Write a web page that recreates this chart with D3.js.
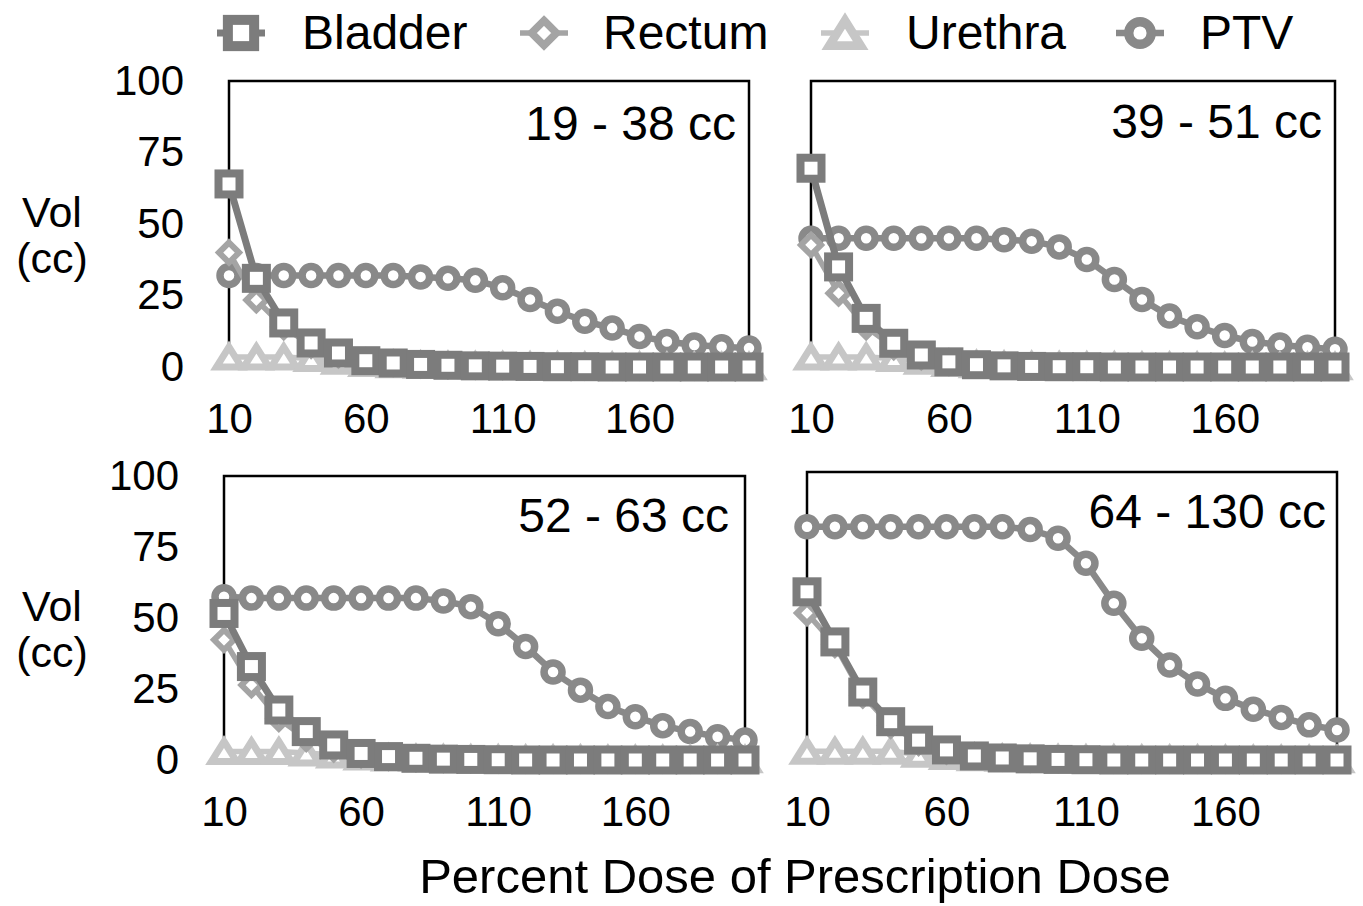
<!DOCTYPE html>
<html>
<head>
<meta charset="utf-8">
<script src="https://cdn.jsdelivr.net/npm/d3@7"></script>
<style>
  html, body { margin: 0; padding: 0; background: #ffffff; }
  svg { display: block; }
  text { font-family: "Liberation Sans", Arial, Helvetica, sans-serif; fill: #000; }
</style>
</head>
<body>
<script>
// ---------------- DATA ----------------
const dose = [10, 20, 30, 40, 50, 60, 70, 80, 90, 100, 110, 120, 130, 140, 150, 160, 170, 180, 190, 200];
const xTickValues = [10, 60, 110, 160];
const yTickValues = [0, 25, 50, 75, 100];
const seriesNames = ["Bladder", "Rectum", "Urethra", "PTV"];
const panelLabels = ["19 - 38 cc", "39 - 51 cc", "52 - 63 cc", "64 - 130 cc"];
const yTitleLines = ["Vol", "(cc)"];
const xTitle = "Percent Dose of Prescription Dose";

// Panel 1: 19 - 38 cc
const bladder1 = [64, 31, 15.4, 8.4, 4.9, 2.2, 1.4, 0.9, 0.6, 0.4, 0.3, 0.2, 0.1, 0.1, 0, 0, 0, 0, 0, 0];
const rectum1  = [40, 23.4, 14, 7.5, 4.2, 2.2, 1.2, 0.7, 0.4, 0.3, 0.2, 0.1, 0.1, 0, 0, 0, 0, 0, 0, 0];
const urethra1 = [3.5, 3.5, 3.5, 3, 2, 1.2, 0.8, 0.6, 0.5, 0.4, 0.4, 0.3, 0.3, 0.2, 0.2, 0.2, 0.1, 0.1, 0.1, 0.1];
const ptv1     = [32, 32, 32, 32, 32, 32, 32, 31.5, 31, 30.3, 27.7, 23.6, 19.5, 16, 13.6, 10.7, 8.9, 7.7, 7.1, 6.6];

// Panel 2: 39 - 51 cc
const bladder2 = [69.5, 35, 17, 8.3, 4.2, 1.8, 0.8, 0.4, 0.2, 0.1, 0.1, 0, 0, 0, 0, 0, 0, 0, 0, 0];
const rectum2  = [42.7, 25.8, 14, 7, 3.5, 1.6, 0.8, 0.4, 0.2, 0.1, 0, 0, 0, 0, 0, 0, 0, 0, 0, 0];
const urethra2 = [3.5, 3.5, 3.5, 3, 2, 1.2, 0.8, 0.6, 0.5, 0.4, 0.3, 0.3, 0.2, 0.2, 0.2, 0.1, 0.1, 0.1, 0.1, 0.1];
const ptv2     = [45, 45, 45, 45, 45, 45, 45, 44.5, 44, 42, 37.6, 30.6, 23.6, 17.8, 14.1, 11, 8.9, 7.7, 6.9, 6.2];

// Panel 3: 52 - 63 cc
const bladder3 = [51.6, 32.9, 17.6, 10, 5.3, 2.3, 1.2, 0.6, 0.3, 0.2, 0.1, 0, 0, 0, 0, 0, 0, 0, 0, 0];
const rectum3  = [42.3, 26.4, 14.5, 7.5, 3.8, 1.8, 0.9, 0.4, 0.2, 0.1, 0, 0, 0, 0, 0, 0, 0, 0, 0, 0];
const urethra3 = [3, 3, 3, 2.5, 1.8, 1.1, 0.7, 0.5, 0.4, 0.3, 0.3, 0.2, 0.2, 0.2, 0.1, 0.1, 0.1, 0.1, 0.1, 0.1];
const ptv3     = [57.5, 57, 57, 57, 57, 57, 57, 57, 56, 54, 48, 40, 31, 24.6, 18.8, 15.2, 12.1, 10, 8.2, 7];

// Panel 4: 64 - 130 cc
const bladder4 = [58.4, 41, 23.6, 13.3, 6.9, 3.5, 1.4, 0.7, 0.4, 0.2, 0.1, 0, 0, 0, 0, 0, 0, 0, 0, 0];
const rectum4  = [51, 40, 22.5, 12, 6, 3, 1.4, 0.7, 0.3, 0.2, 0.1, 0, 0, 0, 0, 0, 0, 0, 0, 0];
const urethra4 = [3, 3, 3, 3, 2, 1.2, 0.8, 0.6, 0.5, 0.4, 0.3, 0.3, 0.2, 0.2, 0.2, 0.1, 0.1, 0.1, 0.1, 0.1];
const ptv4     = [81, 81, 81, 81, 81, 81, 81, 81, 80, 77, 68.3, 54.4, 42.3, 33, 26.4, 21.4, 17.6, 14.8, 12.2, 10.4];

// ---------------- STYLE / LAYOUT ----------------
const W = 1363, H = 906;
const FONT_TICK = 42, FONT_BIG = 48, FONT_TITLE = 49, FONT_YTITLE = 43;

const styles = {
  Bladder: { color: "#7c7c7c", lw: 7,   marker: "square" },
  Rectum:  { color: "#a4a4a4", lw: 5.5, marker: "diamond" },
  Urethra: { color: "#c6c6c6", lw: 5.5, marker: "triangle" },
  PTV:     { color: "#898989", lw: 6.5, marker: "circle" }
};

const panels = [
  { label: panelLabels[0], x0: 229, x1: 749,  top: 81,  y0: 367, lx: 736,  ly: 140, yAxis: true,
    data: { Bladder: bladder1, Rectum: rectum1, Urethra: urethra1, PTV: ptv1 } },
  { label: panelLabels[1], x0: 811, x1: 1335, top: 81,  y0: 367, lx: 1322, ly: 138, yAxis: false,
    data: { Bladder: bladder2, Rectum: rectum2, Urethra: urethra2, PTV: ptv2 } },
  { label: panelLabels[2], x0: 224, x1: 745,  top: 476, y0: 760, lx: 729,  ly: 532, yAxis: true,
    data: { Bladder: bladder3, Rectum: rectum3, Urethra: urethra3, PTV: ptv3 } },
  { label: panelLabels[3], x0: 807, x1: 1337, top: 472, y0: 760, lx: 1326, ly: 528, yAxis: false,
    data: { Bladder: bladder4, Rectum: rectum4, Urethra: urethra4, PTV: ptv4 } }
];

// marker drawing
function drawMarker(g, type, color, s) {
  s = s || 1;
  if (type === "square") {
    const a = 21 * s;
    g.append("rect").attr("x", -a / 2).attr("y", -a / 2).attr("width", a).attr("height", a)
      .attr("fill", "#fff").attr("stroke", color).attr("stroke-width", 8 * s);
  } else if (type === "circle") {
    g.append("circle").attr("r", 9 * s).attr("fill", "#fff")
      .attr("stroke", color).attr("stroke-width", 7.5 * s);
  } else if (type === "diamond") {
    const h = 10 * s;
    g.append("path").attr("d", `M0,${-h}L${h},0L0,${h}L${-h},0Z`).attr("fill", "#fff")
      .attr("stroke", color).attr("stroke-width", 6 * s).attr("stroke-linejoin", "miter");
  } else if (type === "triangle") {
    const hw = 12.5 * s, hh = 10 * s;
    g.append("path").attr("d", `M0,${-hh}L${hw},${hh}L${-hw},${hh}Z`).attr("fill", "#fff")
      .attr("stroke", color).attr("stroke-width", 7 * s).attr("stroke-linejoin", "miter");
  }
}

const svg = d3.select("body").append("svg").attr("width", W).attr("height", H);
svg.append("rect").attr("width", W).attr("height", H).attr("fill", "#fff");

const drawOrder = ["PTV", "Urethra", "Rectum", "Bladder"];

panels.forEach(p => {
  const x = d3.scaleLinear().domain([10, 200]).range([p.x0, p.x1]);
  const y = d3.scaleLinear().domain([0, 100]).range([p.y0, p.top]);
  const g = svg.append("g");

  // plot box
  g.append("rect").attr("x", p.x0).attr("y", p.top)
    .attr("width", p.x1 - p.x0).attr("height", p.y0 - p.top)
    .attr("fill", "none").attr("stroke", "#000").attr("stroke-width", 2.5);

  // y axis labels
  if (p.yAxis) {
    const ya = g.append("g").attr("transform", `translate(${p.x0},0)`)
      .call(d3.axisLeft(y).tickValues(yTickValues).tickSize(0).tickPadding(45).tickFormat(d3.format("d")));
    ya.select(".domain").remove();
    ya.selectAll("text").style("font-size", FONT_TICK + "px")
      .style("font-family", '"Liberation Sans", Arial, sans-serif').attr("fill", "#000");
    // y title
    const mid = (p.top + p.y0) / 2;
    g.append("text").attr("x", 52).attr("y", mid + 3).attr("text-anchor", "middle")
      .style("font-size", FONT_YTITLE + "px").text(yTitleLines[0]);
    g.append("text").attr("x", 52).attr("y", mid + 49).attr("text-anchor", "middle")
      .style("font-size", FONT_YTITLE + "px").text(yTitleLines[1]);
  }

  // x axis labels
  const xa = g.append("g").attr("transform", `translate(0,${p.y0})`)
    .call(d3.axisBottom(x).tickValues(xTickValues).tickSize(0).tickPadding(36).tickFormat(d3.format("d")));
  xa.select(".domain").remove();
  xa.selectAll("text").style("font-size", FONT_TICK + "px")
    .style("font-family", '"Liberation Sans", Arial, sans-serif').attr("fill", "#000");

  // series
  drawOrder.forEach(name => {
    const st = styles[name];
    const vals = p.data[name];
    const pts = dose.map((d, i) => [d, vals[i]]);
    const line = d3.line().x(d => x(d[0])).y(d => y(d[1]));
    g.append("path").attr("d", line(pts)).attr("fill", "none")
      .attr("stroke", st.color).attr("stroke-width", st.lw).attr("stroke-linejoin", "round");
    pts.forEach(d => {
      const m = g.append("g").attr("transform", `translate(${x(d[0])},${y(d[1])})`);
      drawMarker(m, st.marker, st.color, 1);
    });
  });

  // panel label
  g.append("text").attr("x", p.lx).attr("y", p.ly).attr("text-anchor", "end")
    .style("font-size", FONT_BIG + "px").text(p.label);
});

// x title
svg.append("text").attr("x", 795).attr("y", 893).attr("text-anchor", "middle")
  .style("font-size", FONT_TITLE + "px").text(xTitle);

// legend
const legendMarkerX = [241, 544, 845, 1140];
const legendTextX = [302, 603, 906, 1200];
seriesNames.forEach((name, i) => {
  const st = styles[name];
  const cx = legendMarkerX[i], cy = 33;
  svg.append("line").attr("x1", cx - 24).attr("x2", cx + 24).attr("y1", cy).attr("y2", cy)
    .attr("stroke", st.color).attr("stroke-width", st.lw);
  const m = svg.append("g").attr("transform", `translate(${cx},${cy})`);
  drawMarker(m, st.marker, st.color, 1.25);
  svg.append("text").attr("x", legendTextX[i]).attr("y", 49)
    .style("font-size", FONT_BIG + "px").text(name);
});
</script>
</body>
</html>
